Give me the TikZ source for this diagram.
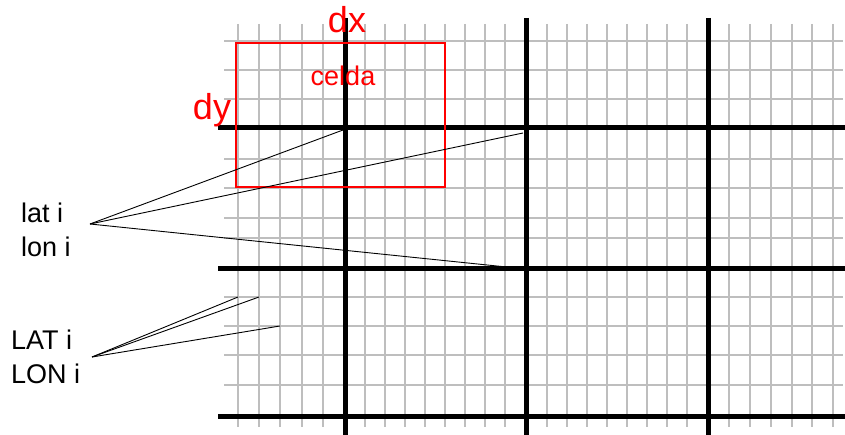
\documentclass[tikz,border=0pt]{standalone}
\usepackage{fontspec}
\setmainfont{Liberation Sans}
\definecolor{gridgray}{RGB}{190,190,190}
\definecolor{cellred}{RGB}{255,0,0}

\begin{document}
\begin{tikzpicture}[x=1pt, y=-1pt,
    finegrid/.style={draw=gridgray, line width=1.3pt},
    coarsegrid/.style={draw=black, line width=5pt},
    pointer/.style={draw=black, line width=0.9pt},
    redlabel/.style={text=cellred, inner sep=0pt, anchor=base},
    blacklabel/.style={text=black, inner sep=0pt, align=left, anchor=north west, font=\fontsize{27}{33.5}\selectfont}]
  \useasboundingbox (0,0) rectangle (845,435);

  % Fine grid
  \foreach \x in {238,259,280,302,323,365,385,405,425,445,465,485,505,547,567,587,607,627,647,667,687,729,750,771,792,812,833}
    \draw[finegrid] (\x,24) -- (\x,427);
  \foreach \y in {41,70,99,159,188,218,238,297,326,355,385}
    \draw[finegrid] (224,\y) -- (843,\y);

  % Coarse grid
  \foreach \x in {345,526,708}
    \draw[coarsegrid] (\x,18) -- (\x,435);
  \foreach \y in {128,269,416}
    \draw[coarsegrid] (218,\y) -- (845,\y);

  % Cell
  \node[draw=cellred, line width=2pt, minimum width=209pt, minimum height=144pt, inner sep=0pt, anchor=north west] (cell) at (235,42) {};
  \node[redlabel, font=\fontsize{27}{30}\selectfont] (celda) at (343,86) {celda};
  \node[redlabel, font=\fontsize{36}{40}\selectfont] (dx) at (347,33) {dx};
  \node[redlabel, font=\fontsize{36}{40}\selectfont] (dy) at (212,120) {dy};

  % Labels
  \node[blacklabel] (latlon) at (21,203) {lat i\\lon i};
  \node[blacklabel] (LATLON) at (11,330) {LAT i\\LON i};

  % Pointers
  \coordinate (latapex) at (90,224);
  \coordinate (latA) at (343,130);
  \coordinate (latB) at (523,133);
  \coordinate (latC) at (526,269);
  \coordinate (LATapex) at (92,357);
  \coordinate (LATA) at (238,297);
  \coordinate (LATB) at (259,297);
  \coordinate (LATC) at (280,326);
  \foreach \p in {latA,latB,latC}
    \draw[pointer] (latapex) -- (\p);
  \foreach \p in {LATA,LATB,LATC}
    \draw[pointer] (LATapex) -- (\p);
\end{tikzpicture}
\end{document}
